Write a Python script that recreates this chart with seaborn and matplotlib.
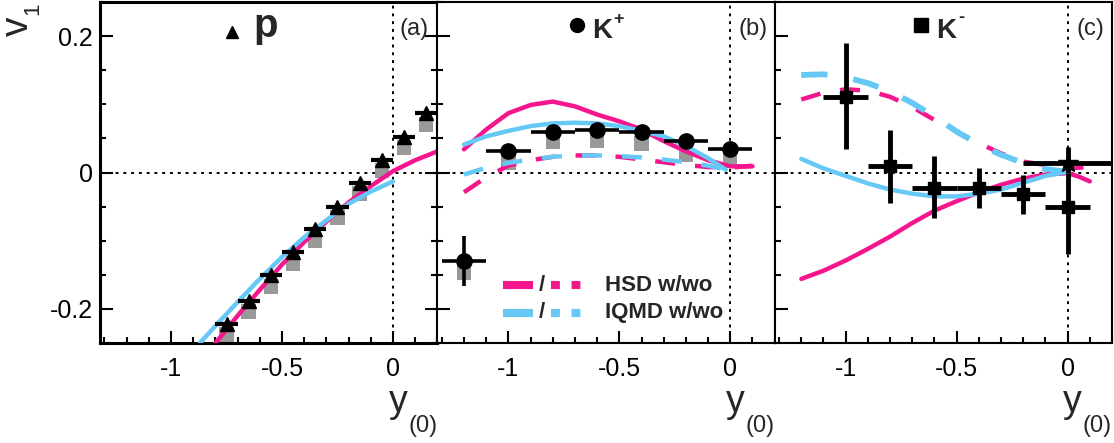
import numpy as np
import matplotlib
matplotlib.use("Agg")
import matplotlib.pyplot as plt
from matplotlib.ticker import MultipleLocator
from matplotlib.transforms import blended_transform_factory
import seaborn as sns

# ---- data ----
# protons
p_y = [-0.75, -0.65, -0.55, -0.45, -0.35, -0.25, -0.15, -0.05, 0.05, 0.15]
p_v1 = [-0.222, -0.188, -0.151, -0.117, -0.083, -0.050, -0.015, 0.019, 0.052, 0.087]
p_sys_lo = [-0.250, -0.215, -0.178, -0.144, -0.110, -0.077, -0.042, -0.008, 0.025, 0.060]
p_sys_hi = [-0.227, -0.193, -0.156, -0.122, -0.088, -0.055, -0.020, 0.014, 0.047, 0.082]

# K+
kp_y = [-1.2, -1.0, -0.8, -0.6, -0.4, -0.2, 0.0]
kp_v1 = [-0.130, 0.031, 0.060, 0.063, 0.059, 0.046, 0.035]
kp_err = [0.037, 0.004, 0.004, 0.004, 0.004, 0.004, 0.004]
kp_sys_lo = [-0.158, 0.003, 0.034, 0.036, 0.031, 0.016, 0.007]
kp_sys_hi = [-0.132, 0.029, 0.055, 0.055, 0.053, 0.043, 0.031]

# K-
km_y = [-1.0, -0.8, -0.6, -0.4, -0.2, 0.0]
km_v1 = [0.111, 0.009, -0.022, -0.022, -0.032, -0.050]
km_err_up = [0.079, 0.054, 0.046, 0.029, 0.029, 0.050]
km_err_dn = [0.077, 0.054, 0.044, 0.030, 0.029, 0.070]
km_star_y = [0.0]
km_star_v1 = [0.014]
km_star_err_up = [0.024]
km_star_err_dn = [0.014]

# model curves: HSD / IQMD with (w) and without (wo) potential
pa_hsd_w_x = [-0.80, -0.70, -0.60, -0.50, -0.40, -0.30, -0.20, -0.10, 0.00, 0.10, 0.20]
pa_hsd_w_v = [-0.250, -0.210, -0.172, -0.135, -0.102, -0.072, -0.044, -0.020, 0.002, 0.018, 0.031]
pa_iqmd_w_x = [-0.87, -0.80, -0.70, -0.60, -0.50, -0.40, -0.30, -0.20, -0.10, 0.00]
pa_iqmd_w_v = [-0.250, -0.225, -0.190, -0.156, -0.124, -0.095, -0.070, -0.046, -0.028, -0.013]

kb_x = [-1.2, -1.1, -1.0, -0.9, -0.8, -0.7, -0.6, -0.5, -0.4, -0.3, -0.2, -0.1, 0.0, 0.1]
kb_hsd_w = [0.034, 0.063, 0.087, 0.099, 0.104, 0.097, 0.085, 0.075, 0.063, 0.046, 0.031, 0.018, 0.009, 0.009]
kb_hsd_wo = [-0.029, -0.007, 0.010, 0.018, 0.023, 0.025, 0.025, 0.023, 0.019, 0.015, 0.011, 0.008, 0.007, 0.010]
kb_iqmd_x = [-1.2, -1.1, -1.0, -0.9, -0.8, -0.7, -0.6, -0.5, -0.4, -0.3, -0.2, -0.1, -0.02]
kb_iqmd_w = [0.041, 0.053, 0.061, 0.068, 0.072, 0.073, 0.072, 0.068, 0.061, 0.053, 0.039, 0.021, 0.004]
kb_iqmd_wo = [-0.003, 0.007, 0.014, 0.019, 0.023, 0.025, 0.025, 0.024, 0.022, 0.019, 0.015, 0.010, 0.004]

kc_x = [-1.2, -1.1, -1.0, -0.9, -0.8, -0.7, -0.6, -0.5, -0.4, -0.3, -0.2, -0.1, 0.0, 0.05, 0.1]
kc_hsd_w = [-0.156, -0.144, -0.129, -0.112, -0.094, -0.074, -0.056, -0.042, -0.029, -0.018, -0.009, -0.003, -0.001, -0.006, -0.013]
kc_hsd_wo = [0.107, 0.117, 0.122, 0.120, 0.111, 0.096, 0.077, 0.060, 0.043, 0.028, 0.016, 0.011, 0.006, 0.007, 0.008]
kc_iqmd_x = [-1.2, -1.1, -1.0, -0.9, -0.8, -0.7, -0.6, -0.5, -0.4, -0.3, -0.2, -0.1, 0.0]
kc_iqmd_w = [0.020, 0.006, -0.005, -0.016, -0.025, -0.031, -0.035, -0.035, -0.031, -0.025, -0.015, -0.005, 0.001]
kc_iqmd_wo = [0.143, 0.144, 0.140, 0.131, 0.119, 0.102, 0.082, 0.060, 0.041, 0.026, 0.014, 0.005, 0.001]

HSD = "#f5168d"
IQMD = "#66c8f5"
GRAY = "#999999"
DASH = (0, (4.5, 4.5))

sns.set_theme(style="ticks")
plt.rcParams["font.family"] = ["Liberation Sans", "DejaVu Sans"]

fig = plt.figure(figsize=(11.14, 4.43), dpi=100)
left, bottom, height = 100 / 1114, 100 / 443, 341 / 443
pw = (1112 - 100) / 3 / 1114
axes = [fig.add_axes([left + i * pw, bottom, pw, height]) for i in range(3)]

for i, ax in enumerate(axes):
    ax.set_xlim(-1.32, 0.2)
    ax.set_ylim(-0.25, 0.25)
    ax.xaxis.set_major_locator(MultipleLocator(0.5))
    ax.xaxis.set_minor_locator(MultipleLocator(0.1))
    ax.yaxis.set_major_locator(MultipleLocator(0.2))
    ax.yaxis.set_minor_locator(MultipleLocator(0.05))
    ax.tick_params(which="both", direction="in", top=False, right=(i == 0),
                   labelsize=18, width=1.5, colors="black")
    ax.tick_params(which="major", length=9)
    ax.tick_params(which="minor", length=4.5)
    ax.tick_params(axis="x", pad=10)
    ax.tick_params(axis="y", pad=5)
    ax.xaxis.set_major_formatter(plt.FuncFormatter(lambda v, _: "%g" % round(v, 2)))
    ax.yaxis.set_major_formatter(plt.FuncFormatter(lambda v, _: "%g" % round(v, 2)))
    if i > 0:
        ax.tick_params(axis="y", labelleft=False)
    for s in ax.spines.values():
        s.set_linewidth(2.2 if i == 0 else 1.5)
        s.set_color("black")
    ax.axhline(0, color="black", ls=(0, (1.5, 2.5)), lw=1.4, zorder=1)
    ax.axvline(0, color="black", ls=(0, (1.5, 2.5)), lw=1.4, zorder=1)
    bt = blended_transform_factory(ax.transData, ax.transAxes)
    ax.text(-0.02, -0.202, "y", transform=bt, fontsize=27, ha="left", va="baseline")
    ax.text(0.068, -0.262, "(0)", transform=bt, fontsize=17, ha="left", va="baseline")

# ---- (a) protons ----
ax = axes[0]
ax.bar(p_y, np.subtract(p_sys_hi, p_sys_lo), bottom=p_sys_lo, width=0.065,
       color=GRAY, linewidth=0, zorder=2)
sns.lineplot(x=pa_hsd_w_x, y=pa_hsd_w_v, ax=ax, color=HSD, lw=3.2, sort=False, zorder=3)
sns.lineplot(x=pa_iqmd_w_x, y=pa_iqmd_w_v, ax=ax, color=IQMD, lw=3.2, sort=False, zorder=3)
ax.errorbar(p_y, p_v1, xerr=0.05, fmt="^", color="black", ms=10, elinewidth=3,
            capsize=0, zorder=4)
ax.plot([0.392], [0.912], "^", color="black", ms=8, transform=ax.transAxes)
ax.text(0.455, 0.897, "p", transform=ax.transAxes, fontsize=29, fontweight="bold",
        ha="left", va="baseline")
ax.text(0.93, 0.92, "(a)", transform=ax.transAxes, fontsize=17, ha="center", va="center")
fig.text(18 / 1114, 1 - 26 / 443, "v", fontsize=28, rotation=90, ha="center", va="center")
fig.text(33 / 1114, 1 - 9 / 443, "1", fontsize=16, rotation=90, ha="center", va="center")

# ---- (b) K+ ----
ax = axes[1]
ax.bar(kp_y, np.subtract(kp_sys_hi, kp_sys_lo), bottom=kp_sys_lo, width=0.065,
       color=GRAY, linewidth=0, zorder=2)
sns.lineplot(x=kb_x, y=kb_hsd_w, ax=ax, color=HSD, lw=3.2, sort=False, zorder=3)
sns.lineplot(x=kb_iqmd_x, y=kb_iqmd_w, ax=ax, color=IQMD, lw=3.2, sort=False, zorder=3)
sns.lineplot(x=kb_x, y=kb_hsd_wo, ax=ax, color=HSD, lw=3.2, linestyle=DASH, sort=False, zorder=3)
sns.lineplot(x=kb_iqmd_x, y=kb_iqmd_wo, ax=ax, color=IQMD, lw=3.2, linestyle=DASH, sort=False, zorder=3)
ax.errorbar(kp_y, kp_v1, xerr=0.1, yerr=kp_err, fmt="o", color="black", ms=11,
            elinewidth=2.6, capsize=0, zorder=4)
ax.plot([0.414], [0.933], "o", color="black", ms=10, transform=ax.transAxes)
ax.text(0.459, 0.894, "K", transform=ax.transAxes, fontsize=20, fontweight="bold",
        ha="left", va="baseline")
ax.text(0.522, 0.95, "+", transform=ax.transAxes, fontsize=13, fontweight="bold",
        ha="left", va="center")
ax.text(0.935, 0.92, "(b)", transform=ax.transAxes, fontsize=17, ha="center", va="center")

# legend drawn by hand (solid / dashed pairs)
for row, (col, lab) in enumerate([(HSD, "HSD w/wo"), (IQMD, "IQMD w/wo")]):
    yy = 0.170 - row * 0.082
    ax.plot([0.195, 0.284], [yy, yy], color=col, lw=5.8, transform=ax.transAxes,
            solid_capstyle="butt")
    ax.text(0.31, yy, "/", transform=ax.transAxes, fontsize=16, fontweight="bold",
            ha="center", va="center")
    ax.plot([0.337, 0.426], [yy, yy], color=col, lw=5.8, transform=ax.transAxes,
            linestyle=(0, (1.1, 1.45)), dash_capstyle="butt")
    ax.text(0.496, yy, lab, transform=ax.transAxes, fontsize=16, fontweight="bold",
            ha="left", va="center")

# ---- (c) K- ----
ax = axes[2]
sns.lineplot(x=kc_x, y=kc_hsd_w, ax=ax, color=HSD, lw=3.2, sort=False, zorder=3)
sns.lineplot(x=kc_iqmd_x, y=kc_iqmd_w, ax=ax, color=IQMD, lw=3.2, sort=False, zorder=3)
sns.lineplot(x=kc_x, y=kc_hsd_wo, ax=ax, color=HSD, lw=3.2, linestyle=DASH, sort=False, zorder=3)
sns.lineplot(x=kc_iqmd_x, y=kc_iqmd_wo, ax=ax, color=IQMD, lw=4.2, linestyle=DASH, sort=False, zorder=3)
ax.errorbar(km_y, km_v1, xerr=0.1, yerr=[km_err_dn, km_err_up], fmt="s", color="black",
            ms=9, elinewidth=3.5, capsize=0, zorder=4)
ax.errorbar(km_star_y, km_star_v1, xerr=0.2, yerr=[km_star_err_dn, km_star_err_up],
            fmt="*", color="black", ms=15, elinewidth=3.5, capsize=0, zorder=4)
ax.plot([0.435], [0.933], "s", color="black", ms=10, transform=ax.transAxes)
ax.text(0.479, 0.894, "K", transform=ax.transAxes, fontsize=20, fontweight="bold",
        ha="left", va="baseline")
ax.text(0.543, 0.955, "-", transform=ax.transAxes, fontsize=13, fontweight="bold",
        ha="left", va="center")
ax.text(0.935, 0.92, "(c)", transform=ax.transAxes, fontsize=17, ha="center", va="center")

fig.savefig("out.png", dpi=100)
